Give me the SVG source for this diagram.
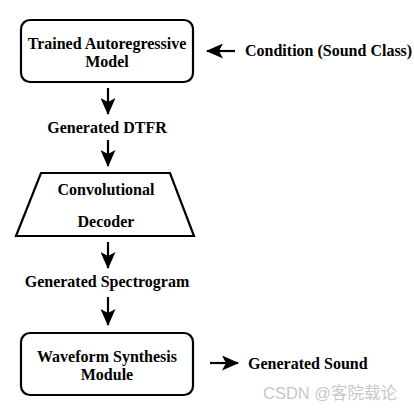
<svg xmlns="http://www.w3.org/2000/svg" width="414" height="411" viewBox="0 0 414 411">
<style>
.box{fill:#fff;stroke:#000;stroke-width:2.2}
.t{font-family:"Liberation Serif","Times New Roman",serif;font-weight:bold;font-size:16px;fill:#000}
.c{text-anchor:middle}
.conn line{stroke:#000;stroke-width:2.2}
.wm{font-family:"Liberation Sans","Noto Sans CJK SC",sans-serif;font-size:16.5px;fill:#c8c8c8}
</style>
<defs>
<marker id="ah" markerUnits="userSpaceOnUse" markerWidth="17" markerHeight="15" viewBox="0 0 17 15" refX="16" refY="7.5" orient="auto">
<path d="M0,0 L17,7.5 L0,15 L4,7.5 z" fill="#000"/>
</marker>
</defs>
<rect width="414" height="411" fill="#fff"/>
<g id="autoregressive">
<rect class="box" x="21" y="20" width="172" height="62" rx="9"/>
<text class="t c" x="107" y="49">Trained Autoregressive</text>
<text class="t c" x="107" y="67">Model</text>
</g>
<g id="condition">
<text class="t" x="245" y="56">Condition (Sound Class)</text>
</g>
<g id="dtfr">
<text class="t c" x="107" y="133">Generated DTFR</text>
</g>
<g id="decoder">
<polygon class="box" points="41,173 170,173 194,236 16,236"/>
<text class="t c" x="106" y="195">Convolutional</text>
<text class="t c" x="106" y="227">Decoder</text>
</g>
<g id="spectrogram">
<text class="t c" x="107" y="287">Generated Spectrogram</text>
</g>
<g id="waveform">
<rect class="box" x="21" y="333" width="172" height="62" rx="9"/>
<text class="t c" x="107" y="362">Waveform Synthesis</text>
<text class="t c" x="107" y="380">Module</text>
</g>
<g id="sound">
<text class="t" x="248" y="369">Generated Sound</text>
</g>
<g class="conn">
<line x1="235" y1="51" x2="207" y2="51" marker-end="url(#ah)"/>
<line x1="108" y1="88" x2="108" y2="114" marker-end="url(#ah)"/>
<line x1="108" y1="140" x2="108" y2="166" marker-end="url(#ah)"/>
<line x1="108" y1="242" x2="108" y2="268" marker-end="url(#ah)"/>
<line x1="108" y1="297" x2="108" y2="325" marker-end="url(#ah)"/>
<line x1="210" y1="363" x2="238" y2="363" marker-end="url(#ah)"/>
</g>
<text class="wm" x="263" y="399">CSDN @客院载论</text>
</svg>
